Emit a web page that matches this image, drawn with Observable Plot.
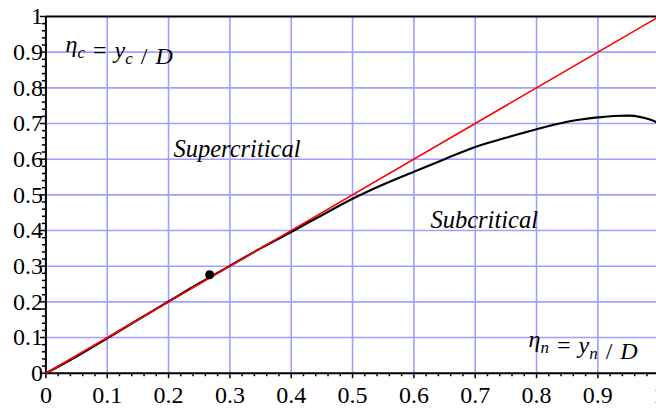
<!DOCTYPE html>
<html><head><meta charset="utf-8">
<script src="https://cdn.jsdelivr.net/npm/d3@7"></script>
<script src="https://cdn.jsdelivr.net/npm/@observablehq/plot@0.6"></script>
<style>
body{margin:0;background:#fff}
svg{display:block}
</style>
</head><body><div id="chart"></div>
<script>
// normal depth ratio (x) and critical depth ratio (y) for the black curve
const etaN = [0, 0.05, 0.1, 0.15, 0.2, 0.25, 0.3, 0.35, 0.4, 0.45, 0.5, 0.55, 0.6, 0.65, 0.7, 0.75, 0.8, 0.825, 0.85, 0.875, 0.9, 0.925, 0.95, 0.97, 0.985, 1.0];
const etaC = [0, 0.047, 0.098, 0.150, 0.201, 0.252, 0.301, 0.350, 0.396, 0.443, 0.489, 0.529, 0.565, 0.600, 0.634, 0.660, 0.684, 0.695, 0.705, 0.712, 0.717, 0.721, 0.722, 0.718, 0.711, 0.700];
// the line eta_c = eta_n
const diagX = [0, 1];
const diagY = [0, 1];
// marked point
const pointX = [0.267];
const pointY = [0.276];
// tick values and labels
const majorTicks = [0, 0.1, 0.2, 0.3, 0.4, 0.5, 0.6, 0.7, 0.8, 0.9, 1];
const tickLabels = ["0", "0.1", "0.2", "0.3", "0.4", "0.5", "0.6", "0.7", "0.8", "0.9", "1"];
const minorTicks = [0.02,0.04,0.06,0.08,0.12,0.14,0.16,0.18,0.22,0.24,0.26,0.28,0.32,0.34,0.36,0.38,0.42,0.44,0.46,0.48,0.52,0.54,0.56,0.58,0.62,0.64,0.66,0.68,0.72,0.74,0.76,0.78,0.82,0.84,0.86,0.88,0.92,0.94,0.96,0.98];
const gridTicks = [0.1, 0.2, 0.3, 0.4, 0.5, 0.6, 0.7, 0.8, 0.9];
// annotations
const regionLabels = ["Supercritical", "Subcritical"];
const regionX = [0.208, 0.627];
const regionY = [0.606, 0.406];
const formulaLabels = ["η_c = y_c / D", "η_n = y_n / D"];
const formulaX = [0.032, 0.787];
const formulaY = [0.9, 0.073];

const curve = etaN.map((x, i) => ({x, y: etaC[i]}));
const diag = diagX.map((x, i) => ({x, y: diagY[i]}));
const pts = pointX.map((x, i) => ({x, y: pointY[i]}));
const regions = regionLabels.map((t, i) => ({t, x: regionX[i], y: regionY[i]}));
const formulas = formulaLabels.map((t, i) => ({t, x: formulaX[i], y: formulaY[i]}));

const serif = "Liberation Serif";
const fmt = d => tickLabels[Math.round(d * 10)];

const chart = Plot.plot({
  width: 656, height: 408,
  marginLeft: 45.4, marginRight: 0, marginTop: 16, marginBottom: 35.3,
  style: "background:#fff; color:#000;",
  x: {domain: [0, 1], range: [45.4, 658.7], label: null},
  y: {domain: [0, 1], label: null},
  marks: [
    Plot.gridX(gridTicks, {stroke: "#a0a0ff", strokeOpacity: 1, strokeWidth: 1.6}),
    Plot.gridY(gridTicks, {stroke: "#a0a0ff", strokeOpacity: 1, strokeWidth: 1.6}),
    Plot.axisX(minorTicks, {tickSize: 3.5, tickFormat: () => "", strokeWidth: 1.5, label: null}),
    Plot.axisY(minorTicks, {tickSize: 3.5, tickFormat: () => "", strokeWidth: 1.5, label: null}),
    Plot.axisX(majorTicks, {tickSize: 5.5, tickPadding: 7, tickFormat: fmt, fontSize: 24, fontFamily: serif, strokeWidth: 1.5, label: null}),
    Plot.axisY(majorTicks, {tickSize: 5.5, tickPadding: -2.5, tickFormat: fmt, fontSize: 24, fontFamily: serif, strokeWidth: 1.5, label: null}),
    Plot.ruleX([0], {stroke: "#000", strokeWidth: 2}),
    Plot.ruleY([0], {stroke: "#000", strokeWidth: 2}),
    Plot.ruleY([1], {stroke: "#000", strokeWidth: 2}),
    Plot.line(curve, {x: "x", y: "y", stroke: "#000", strokeWidth: 2.2, curve: "monotone-x"}),
    Plot.line(diag, {x: "x", y: "y", stroke: "#ff0000", strokeWidth: 1.6}),
    Plot.dot(pts, {x: "x", y: "y", r: 4.5, fill: "#000"}),
    Plot.text(regions, {x: "x", y: "y", text: "t", textAnchor: "start", lineAnchor: "bottom", fontSize: 24.5, fontStyle: "italic", fontFamily: serif, fill: "#000"}),
    Plot.text(formulas, {x: "x", y: "y", text: "t", textAnchor: "start", lineAnchor: "bottom", fontSize: 24, fontFamily: serif, fill: "#000"})
  ]
});

// typeset formula labels with subscripts
d3.select(chart).selectAll("text").filter(function() { return this.textContent.includes("_"); }).each(function() {
  const s = this.textContent;
  const el = d3.select(this);
  el.text(null);
  s.split(" ").forEach((tok, k) => {
    const pre = k > 0 ? " " : "";
    const gap = k > 0 ? 2 : 0;
    if (tok.includes("_")) {
      const [b, sub] = tok.split("_");
      el.append("tspan").attr("font-style", "italic").attr("dx", gap).text(pre + b);
      el.append("tspan").attr("font-style", "italic").attr("font-size", 17).attr("dy", 6).text(sub);
      el.append("tspan").attr("dy", -6).text("");
    } else if (tok === "=" || tok === "/") {
      el.append("tspan").attr("dx", gap).text(pre + tok);
    } else {
      el.append("tspan").attr("font-style", "italic").attr("dx", gap).text(pre + tok);
    }
  });
});

document.getElementById("chart").appendChild(chart);
</script>
</body></html>
